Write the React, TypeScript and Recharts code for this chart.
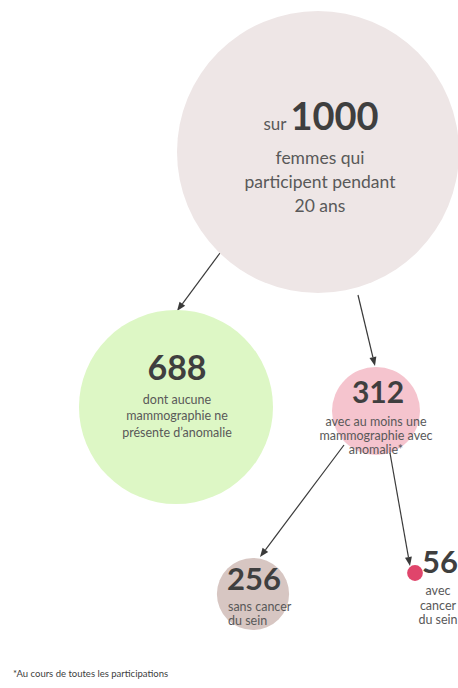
import { ScatterChart, Scatter, XAxis, YAxis, ZAxis, ReferenceLine } from "recharts"

// --- data ---
const nodeKeys = ["participantes", "sansAnomalie", "avecAnomalie", "sansCancer", "avecCancer"]
const nodeValues = [1000, 688, 312, 256, 56]
const nodePrefixes = ["sur", "", "", "", ""]
const nodeDescriptions = [
  ["femmes qui", "participent pendant", "20 ans"],
  ["dont aucune", "mammographie ne", "présente d’anomalie"],
  ["avec au moins une", "mammographie avec", "anomalie*"],
  ["sans cancer", "du sein"],
  ["avec", "cancer", "du sein"],
]
const footnote = "*Au cours de toutes les participations"

// --- layout (chart units = pixels of the 458x688 canvas) ---
const nodeCenters = [[318, 152], [176, 407], [376, 411], [253, 594], [415, 573]]
const nodeFills = ["#eee6e6", "#ddf7c5", "#f5c4ce", "#d7c6c2", "#e0456b"]
const arrows = [
  [[220, 253], [177, 311]],
  [[358, 295], [375, 366]],
  [[344, 445], [260, 557]],
  [[390, 453], [410, 566]],
]

type LabelStyle = {
  numAnchor: "start" | "middle"
  numDx: number
  numY: number
  numSize: number
  lineAnchor: "start" | "middle"
  lineDx: number
  lineY: number[]
  lineSize: number
}

const labelStyles: LabelStyle[] = [
  { numAnchor: "middle", numDx: 3, numY: -22, numSize: 38, lineAnchor: "middle", lineDx: 2, lineY: [12, 36, 60], lineSize: 17.5 },
  { numAnchor: "middle", numDx: 1, numY: -27, numSize: 34, lineAnchor: "middle", lineDx: 1, lineY: [-3, 13, 30], lineSize: 12.5 },
  { numAnchor: "middle", numDx: 2, numY: -8, numSize: 30, lineAnchor: "middle", lineDx: 0, lineY: [15, 29, 43], lineSize: 12.5 },
  { numAnchor: "start", numDx: -26, numY: -4, numSize: 31, lineAnchor: "start", lineDx: -25, lineY: [17, 31], lineSize: 12.5 },
  { numAnchor: "start", numDx: 7, numY: 0, numSize: 31, lineAnchor: "middle", lineDx: 23, lineY: [22, 37, 51], lineSize: 12.5 },
]

const FONT = "Lato, 'Open Sans', sans-serif"

const tableData = nodeValues.map((v, i) => ({
  index: i,
  key: nodeKeys[i],
  value: v,
  x: nodeCenters[i][0],
  y: nodeCenters[i][1],
}))

const NodeShape = (props: any) => {
  const { cx, cy, size, payload } = props
  const i = payload.index
  const s = labelStyles[i]
  const r = typeof size === "number" ? size : 0
  return (
    <g>
      <circle cx={cx} cy={cy} r={r} fill={nodeFills[i]} />
      <text
        x={cx + s.numDx}
        y={cy + s.numY}
        textAnchor={s.numAnchor}
        fontFamily={FONT}
        fill="#3f3f3f"
      >
        {nodePrefixes[i] && (
          <tspan fontSize={17} fill="#595959">{nodePrefixes[i] + " "}</tspan>
        )}
        <tspan fontSize={s.numSize} fontWeight={700}>{payload.value}</tspan>
      </text>
      {nodeDescriptions[i].map((line, j) => (
        <text
          key={j}
          x={cx + s.lineDx}
          y={cy + s.lineY[j]}
          textAnchor={s.lineAnchor}
          fontFamily={FONT}
          fontSize={s.lineSize}
          fill="#595959"
        >
          {line}
        </text>
      ))}
    </g>
  )
}

const Arrow = (props: any) => {
  const { x1, y1, x2, y2 } = props
  const ang = Math.atan2(y2 - y1, x2 - x1)
  const len = 9
  const half = 3.5
  const bx = x2 - len * Math.cos(ang)
  const by = y2 - len * Math.sin(ang)
  const px = -Math.sin(ang) * half
  const py = Math.cos(ang) * half
  return (
    <g>
      <line x1={x1} y1={y1} x2={bx} y2={by} stroke="#3a3a3a" strokeWidth={1.2} />
      <polygon
        points={`${x2},${y2} ${bx + px},${by + py} ${bx - px},${by - py}`}
        fill="#3a3a3a"
      />
    </g>
  )
}

export default function App() {
  return (
    <div
      style={{
        position: "absolute",
        left: 0,
        top: 0,
        width: 458,
        height: 688,
        background: "#ffffff",
        overflow: "hidden",
      }}
    >
      <ScatterChart width={458} height={688} margin={{ top: 0, right: 0, bottom: 0, left: 0 }}>
        <XAxis type="number" dataKey="x" domain={[0, 458]} hide />
        <YAxis type="number" dataKey="y" domain={[0, 688]} reversed hide />
        <ZAxis type="number" dataKey="value" domain={[0, 1000]} range={[0, 141]} />
        <Scatter data={tableData} shape={NodeShape} isAnimationActive={false} />
        {arrows.map((a, i) => (
          <ReferenceLine
            key={i}
            segment={[{ x: a[0][0], y: a[0][1] }, { x: a[1][0], y: a[1][1] }]}
            shape={Arrow}
          />
        ))}
      </ScatterChart>
      <div
        style={{
          position: "absolute",
          left: 13,
          top: 668,
          fontFamily: FONT,
          fontSize: 9.5,
          color: "#404040",
          whiteSpace: "nowrap",
        }}
      >
        {footnote}
      </div>
    </div>
  )
}
